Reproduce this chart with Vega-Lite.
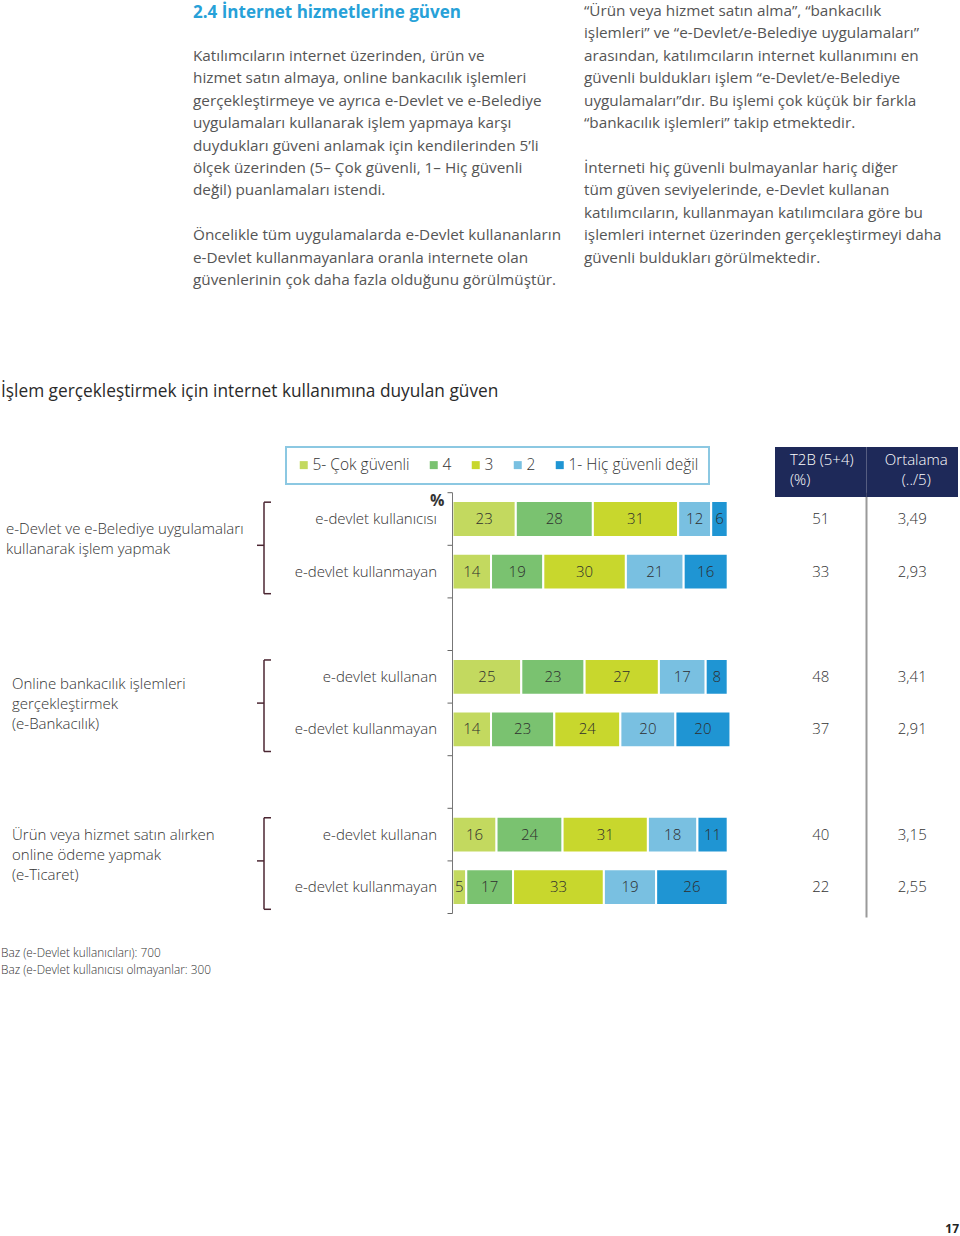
{
  "$schema": "https://vega.github.io/schema/vega-lite/v6.json",
  "width": 960,
  "height": 1236,
  "autosize": "none",
  "padding": 0,
  "background": "white",
  "config": {
    "view": {"stroke": null},
    "font": "Open Sans",
    "locale": {"number": {"decimal": ",", "thousands": ".", "grouping": [3], "currency": ["", " TL"]}},
    "legend": {"strokeWidth": 2}
  },
  "datasets": {
    "text": [
      {"kind": "heading", "column": 1, "line": 0.08, "text": "2.4 İnternet hizmetlerine güven"},
      {"kind": "body", "column": 1, "line": 2, "text": "Katılımcıların internet üzerinden, ürün ve"},
      {"kind": "body", "column": 1, "line": 3, "text": "hizmet satın almaya, online bankacılık işlemleri"},
      {"kind": "body", "column": 1, "line": 4, "text": "gerçekleştirmeye ve ayrıca e-Devlet ve e-Belediye"},
      {"kind": "body", "column": 1, "line": 5, "text": "uygulamaları kullanarak işlem yapmaya karşı"},
      {"kind": "body", "column": 1, "line": 6, "text": "duydukları güveni anlamak için kendilerinden 5’li"},
      {"kind": "body", "column": 1, "line": 7, "text": "ölçek üzerinden (5– Çok güvenli, 1– Hiç güvenli"},
      {"kind": "body", "column": 1, "line": 8, "text": "değil) puanlamaları istendi."},
      {"kind": "body", "column": 1, "line": 10, "text": "Öncelikle tüm uygulamalarda e-Devlet kullananların"},
      {"kind": "body", "column": 1, "line": 11, "text": "e-Devlet kullanmayanlara oranla internete olan"},
      {"kind": "body", "column": 1, "line": 12, "text": "güvenlerinin çok daha fazla olduğunu görülmüştür."},
      {"kind": "body", "column": 2, "line": 0, "text": "“Ürün veya hizmet satın alma”, “bankacılık"},
      {"kind": "body", "column": 2, "line": 1, "text": "işlemleri” ve “e-Devlet/e-Belediye uygulamaları”"},
      {"kind": "body", "column": 2, "line": 2, "text": "arasından, katılımcıların internet kullanımını en"},
      {"kind": "body", "column": 2, "line": 3, "text": "güvenli buldukları işlem “e-Devlet/e-Belediye"},
      {"kind": "body", "column": 2, "line": 4, "text": "uygulamaları”dır. Bu işlemi çok küçük bir farkla"},
      {"kind": "body", "column": 2, "line": 5, "text": "“bankacılık işlemleri” takip etmektedir."},
      {"kind": "body", "column": 2, "line": 7, "text": "İnterneti hiç güvenli bulmayanlar hariç diğer"},
      {"kind": "body", "column": 2, "line": 8, "text": "tüm güven seviyelerinde, e-Devlet kullanan"},
      {"kind": "body", "column": 2, "line": 9, "text": "katılımcıların, kullanmayan katılımcılara göre bu"},
      {"kind": "body", "column": 2, "line": 10, "text": "işlemleri internet üzerinden gerçekleştirmeyi daha"},
      {"kind": "body", "column": 2, "line": 11, "text": "güvenli buldukları görülmektedir."},
      {"kind": "title", "column": 0, "line": 17, "text": "İşlem gerçekleştirmek için internet kullanımına duyulan güven"},
      {"kind": "note", "column": 0, "line": 42, "text": "Baz (e-Devlet kullanıcıları): 700"},
      {"kind": "note", "column": 0, "line": 42.75, "text": "Baz (e-Devlet kullanıcısı olmayanlar: 300"},
      {"kind": "page", "column": 3, "line": 54.3, "text": "17"}
    ],
    "bars": [
      {"row": "g1|e-devlet kullanıcısı", "level": "5- Çok güvenli", "pct": 23},
      {"row": "g1|e-devlet kullanıcısı", "level": "4", "pct": 28},
      {"row": "g1|e-devlet kullanıcısı", "level": "3", "pct": 31},
      {"row": "g1|e-devlet kullanıcısı", "level": "2", "pct": 12},
      {"row": "g1|e-devlet kullanıcısı", "level": "1- Hiç güvenli değil", "pct": 6},
      {"row": "g1|e-devlet kullanmayan", "level": "5- Çok güvenli", "pct": 14},
      {"row": "g1|e-devlet kullanmayan", "level": "4", "pct": 19},
      {"row": "g1|e-devlet kullanmayan", "level": "3", "pct": 30},
      {"row": "g1|e-devlet kullanmayan", "level": "2", "pct": 21},
      {"row": "g1|e-devlet kullanmayan", "level": "1- Hiç güvenli değil", "pct": 16},
      {"row": "g2|e-devlet kullanan", "level": "5- Çok güvenli", "pct": 25},
      {"row": "g2|e-devlet kullanan", "level": "4", "pct": 23},
      {"row": "g2|e-devlet kullanan", "level": "3", "pct": 27},
      {"row": "g2|e-devlet kullanan", "level": "2", "pct": 17},
      {"row": "g2|e-devlet kullanan", "level": "1- Hiç güvenli değil", "pct": 8},
      {"row": "g2|e-devlet kullanmayan", "level": "5- Çok güvenli", "pct": 14},
      {"row": "g2|e-devlet kullanmayan", "level": "4", "pct": 23},
      {"row": "g2|e-devlet kullanmayan", "level": "3", "pct": 24},
      {"row": "g2|e-devlet kullanmayan", "level": "2", "pct": 20},
      {"row": "g2|e-devlet kullanmayan", "level": "1- Hiç güvenli değil", "pct": 20},
      {"row": "g3|e-devlet  kullanan", "level": "5- Çok güvenli", "pct": 16},
      {"row": "g3|e-devlet  kullanan", "level": "4", "pct": 24},
      {"row": "g3|e-devlet  kullanan", "level": "3", "pct": 31},
      {"row": "g3|e-devlet  kullanan", "level": "2", "pct": 18},
      {"row": "g3|e-devlet  kullanan", "level": "1- Hiç güvenli değil", "pct": 11},
      {"row": "g3|e-devlet  kullanmayan", "level": "5- Çok güvenli", "pct": 5},
      {"row": "g3|e-devlet  kullanmayan", "level": "4", "pct": 17},
      {"row": "g3|e-devlet  kullanmayan", "level": "3", "pct": 33},
      {"row": "g3|e-devlet  kullanmayan", "level": "2", "pct": 19},
      {"row": "g3|e-devlet  kullanmayan", "level": "1- Hiç güvenli değil", "pct": 26}
    ],
    "summary": [
      {"row": "g1|e-devlet kullanıcısı", "respondent": "e-devlet kullanıcısı", "t2b": 51, "mean": 3.49},
      {"row": "g1|e-devlet kullanmayan", "respondent": "e-devlet kullanmayan", "t2b": 33, "mean": 2.93},
      {"row": "g2|e-devlet kullanan", "respondent": "e-devlet kullanan", "t2b": 48, "mean": 3.41},
      {"row": "g2|e-devlet kullanmayan", "respondent": "e-devlet kullanmayan", "t2b": 37, "mean": 2.91},
      {"row": "g3|e-devlet  kullanan", "respondent": "e-devlet  kullanan", "t2b": 40, "mean": 3.15},
      {"row": "g3|e-devlet  kullanmayan", "respondent": "e-devlet  kullanmayan", "t2b": 22, "mean": 2.55}
    ],
    "ticks": [
      {"row": "g1|e-devlet kullanıcısı"},
      {"row": "g1|e-devlet kullanmayan"},
      {"row": "s1|"},
      {"row": "g2|e-devlet kullanan"},
      {"row": "g2|e-devlet kullanmayan"},
      {"row": "s2|"},
      {"row": "g3|e-devlet  kullanan"},
      {"row": "g3|e-devlet  kullanmayan"}
    ],
    "header": [
      {"metric": "T2B", "label": "T2B (5+4)\n(%)"},
      {"metric": "Ortalama", "label": "Ortalama\n(../5)"}
    ],
    "groups": [
      {"group": "g1", "label": "e-Devlet ve e-Belediye uygulamaları\nkullanarak işlem yapmak", "first": "g1|e-devlet kullanıcısı", "second": "g1|e-devlet kullanmayan"},
      {"group": "g2", "label": "Online bankacılık işlemleri\ngerçekleştirmek\n(e-Bankacılık)", "first": "g2|e-devlet kullanan", "second": "g2|e-devlet kullanmayan"},
      {"group": "g3", "label": "Ürün veya hizmet satın alırken\nonline ödeme yapmak\n(e-Ticaret)", "first": "g3|e-devlet  kullanan", "second": "g3|e-devlet  kullanmayan"}
    ]
  },
  "layer": [
    {
      "data": {"name": "text"},
      "encoding": {
        "x": {"field": "column", "type": "quantitative", "axis": null, "scale": {"domain": [0, 1, 2, 3], "range": [1, 193, 584, 959], "nice": false, "zero": false}},
        "y": {"field": "line", "type": "quantitative", "axis": null, "scale": {"domain": [0, 12], "range": [11, 280.1], "nice": false, "zero": false}},
        "text": {"field": "text"}
      },
      "layer": [
        {"transform": [{"filter": "datum.kind === 'heading'"}], "mark": {"type": "text", "align": "left", "baseline": "middle", "fontSize": 17, "fontWeight": "bold", "fill": "#27a1d8"}},
        {"transform": [{"filter": "datum.kind === 'body'"}], "mark": {"type": "text", "align": "left", "baseline": "middle", "fontSize": 15.3, "fontWeight": "normal", "fill": "#555555"}},
        {"transform": [{"filter": "datum.kind === 'title'"}], "mark": {"type": "text", "align": "left", "baseline": "middle", "fontSize": 17.3, "fill": "#2a2a2a"}},
        {"transform": [{"filter": "datum.kind === 'note'"}], "mark": {"type": "text", "align": "left", "baseline": "middle", "fontSize": 11.8, "fontWeight": 300, "fill": "#333333"}},
        {"transform": [{"filter": "datum.kind === 'page'"}], "mark": {"type": "text", "align": "right", "baseline": "middle", "fontSize": 12, "fontWeight": "bold", "fill": "#222222"}}
      ]
    },
    {
      "layer": [
        {
          "layer": [
            {
              "data": {"name": "bars"},
              "mark": {"type": "bar", "height": {"band": 0.68}, "stroke": "white", "strokeWidth": 2},
              "encoding": {
                "y": {"field": "row", "type": "nominal", "axis": null, "scale": {"domain": ["h|", "g1|e-devlet kullanıcısı", "g1|e-devlet kullanmayan", "s1|", "g2|e-devlet kullanan", "g2|e-devlet kullanmayan", "s2|", "g3|e-devlet  kullanan", "g3|e-devlet  kullanmayan"], "range": [440.1, 913.5], "paddingInner": 0, "paddingOuter": 0}},
                "x": {"field": "pct", "type": "quantitative", "stack": "zero", "axis": null, "scale": {"domain": [0, 100], "range": [452.5, 727.7], "nice": false, "zero": false}},
                "color": {"field": "level", "type": "nominal",
                  "scale": {"domain": ["5- Çok güvenli", "4", "3", "2", "1- Hiç güvenli değil"], "range": ["#c3d95f", "#7ac270", "#c8d72d", "#79c0e1", "#1f95d3"]},
                  "legend": {"orient": "none", "legendX": 286, "legendY": 447, "direction": "horizontal", "title": null, "symbolType": "square", "symbolSize": 64, "symbolStrokeWidth": 0, "labelFontSize": 15.5, "labelFontWeight": 300, "labelColor": "#333333", "labelOffset": 1, "columnPadding": 16, "padding": 10, "strokeColor": "#8cc8e2"}},
                "order": {"field": "level", "sort": "descending"}
              }
            },
            {
              "data": {"name": "bars"},
              "mark": {"type": "text", "baseline": "middle", "align": "center", "fontSize": 15, "fontWeight": 300, "fill": "#2e2e2e"},
              "encoding": {
                "y": {"field": "row", "type": "nominal", "axis": null},
                "x": {"field": "pct", "type": "quantitative", "stack": "zero", "bandPosition": 0.5, "axis": null},
                "detail": {"field": "level"},
                "order": {"field": "level", "sort": "descending"},
                "text": {"field": "pct", "type": "quantitative"}
              }
            },
            {
              "data": {"name": "summary"},
              "mark": {"type": "text", "baseline": "middle", "align": "right", "dx": -15.5, "fontSize": 15, "fontWeight": 300, "fill": "#333333"},
              "encoding": {
                "y": {"field": "row", "type": "nominal", "axis": null},
                "x": {"datum": 0, "type": "quantitative", "axis": null},
                "text": {"field": "respondent"}
              }
            },
            {
              "data": {"name": "ticks"},
              "mark": {"type": "rule", "color": "#666666", "strokeWidth": 1, "xOffset": -5},
              "encoding": {
                "y": {"field": "row", "type": "nominal", "bandPosition": 0, "axis": null},
                "x": {"datum": 0, "type": "quantitative", "axis": null},
                "x2": {"datum": 0}
              }
            },
            {
              "data": {"values": [{"unit": "%"}]},
              "mark": {"type": "rule", "color": "#666666", "strokeWidth": 1, "xOffset": -5},
              "encoding": {
                "y": {"datum": "g3|e-devlet  kullanmayan", "type": "nominal", "bandPosition": 1, "axis": null},
                "x": {"datum": 0, "type": "quantitative", "axis": null},
                "x2": {"datum": 0}
              }
            },
            {
              "data": {"values": [{"unit": "%"}]},
              "mark": {"type": "text", "align": "right", "baseline": "middle", "dx": -8, "dy": 8, "fontSize": 16, "fontWeight": "bold", "fill": "#333333"},
              "encoding": {
                "x": {"datum": 0, "type": "quantitative", "axis": null},
                "y": {"datum": "g1|e-devlet kullanıcısı", "type": "nominal", "bandPosition": 0, "axis": null},
                "text": {"field": "unit"}
              }
            },
            {
              "data": {"values": [{"unit": "%"}]},
              "mark": {"type": "rule", "color": "#777777", "strokeWidth": 1},
              "encoding": {
                "x": {"datum": 0, "type": "quantitative", "axis": null},
                "y": {"datum": "g1|e-devlet kullanıcısı", "type": "nominal", "bandPosition": 0, "axis": null},
                "y2": {"datum": "g3|e-devlet  kullanmayan", "bandPosition": 1}
              }
            }
          ]
        },
        {
          "data": {"name": "groups"},
          "encoding": {
            "x": {"datum": "brace", "type": "nominal", "axis": null, "scale": {"type": "point", "domain": ["label", "brace"], "range": [12, 264], "padding": 0}}
          },
          "layer": [
            {"transform": [{"filter": "datum.group === 'g1'"}], "mark": {"type": "text", "align": "left", "baseline": "middle", "lineBreak": "\n", "lineHeight": 20, "dx": -6, "dy": -16, "fontSize": 15, "fontWeight": 300, "fill": "#333333"},
              "encoding": {"x": {"datum": "label", "type": "nominal"}, "y": {"field": "first", "type": "nominal", "bandPosition": 1, "axis": null}, "text": {"field": "label"}}},
            {"transform": [{"filter": "datum.group === 'g2'"}], "mark": {"type": "text", "align": "left", "baseline": "middle", "lineBreak": "\n", "lineHeight": 20, "dy": -19, "fontSize": 15, "fontWeight": 300, "fill": "#333333"},
              "encoding": {"x": {"datum": "label", "type": "nominal"}, "y": {"field": "first", "type": "nominal", "bandPosition": 1, "axis": null}, "text": {"field": "label"}}},
            {"transform": [{"filter": "datum.group === 'g3'"}], "mark": {"type": "text", "align": "left", "baseline": "middle", "lineBreak": "\n", "lineHeight": 20, "dy": -26, "fontSize": 15, "fontWeight": 300, "fill": "#333333"},
              "encoding": {"x": {"datum": "label", "type": "nominal"}, "y": {"field": "first", "type": "nominal", "bandPosition": 1, "axis": null}, "text": {"field": "label"}}},
            {"mark": {"type": "rule", "color": "#4b2632", "strokeWidth": 1.5},
              "encoding": {"y": {"field": "first", "type": "nominal", "bandPosition": 0.18, "axis": null}, "y2": {"field": "second", "bandPosition": 0.92}}},
            {"mark": {"type": "rule", "color": "#4b2632", "strokeWidth": 1.5, "x2Offset": 7},
              "encoding": {"x2": {"datum": "brace"}, "y": {"field": "first", "type": "nominal", "bandPosition": 0.18, "axis": null}}},
            {"mark": {"type": "rule", "color": "#4b2632", "strokeWidth": 1.5, "x2Offset": 7},
              "encoding": {"x2": {"datum": "brace"}, "y": {"field": "second", "type": "nominal", "bandPosition": 0.92, "axis": null}}},
            {"mark": {"type": "rule", "color": "#4b2632", "strokeWidth": 1.5, "xOffset": -7},
              "encoding": {"x2": {"datum": "brace"}, "y": {"field": "first", "type": "nominal", "bandPosition": 1, "axis": null}}}
          ]
        },
        {
          "layer": [
            {
              "data": {"values": [{"unit": "divider"}]},
              "mark": {"type": "rule", "color": "#9a9a9a", "strokeWidth": 2, "y2Offset": 4},
              "encoding": {
                "x": {"datum": "Ortalama", "type": "nominal", "bandPosition": 0, "axis": null, "scale": {"type": "band", "domain": ["T2B", "Ortalama"], "range": [775, 958], "paddingInner": 0, "paddingOuter": 0}},
                "y": {"datum": "h|", "type": "nominal", "bandPosition": 1, "axis": null},
                "y2": {"datum": "g3|e-devlet  kullanmayan", "bandPosition": 1}
              }
            },
            {
              "data": {"name": "header"},
              "mark": {"type": "bar", "height": {"band": 0.95}, "width": {"band": 1}, "yOffset": 5.6, "fill": "#1e2959"},
              "encoding": {
                "x": {"field": "metric", "type": "nominal", "axis": null},
                "y": {"datum": "h|", "type": "nominal", "axis": null}
              }
            },
            {
              "data": {"name": "header"},
              "transform": [{"filter": "datum.metric === 'T2B'"}],
              "mark": {"type": "text", "align": "left", "baseline": "middle", "dx": 15, "dy": -6.5, "lineBreak": "\n", "lineHeight": 20, "fontSize": 15, "fontWeight": 300, "fill": "white"},
              "encoding": {
                "x": {"field": "metric", "type": "nominal", "bandPosition": 0, "axis": null},
                "y": {"datum": "h|", "type": "nominal", "axis": null},
                "text": {"field": "label"}
              }
            },
            {
              "data": {"name": "header"},
              "transform": [{"filter": "datum.metric === 'Ortalama'"}],
              "mark": {"type": "text", "align": "center", "baseline": "middle", "dx": 4, "dy": -6.5, "lineBreak": "\n", "lineHeight": 20, "fontSize": 15, "fontWeight": 300, "fill": "white"},
              "encoding": {
                "x": {"field": "metric", "type": "nominal", "bandPosition": 0.5, "axis": null},
                "y": {"datum": "h|", "type": "nominal", "axis": null},
                "text": {"field": "label"}
              }
            },
            {
              "data": {"name": "summary"},
              "mark": {"type": "text", "align": "center", "baseline": "middle", "fontSize": 15, "fontWeight": 300, "fill": "#333333"},
              "encoding": {
                "x": {"datum": "T2B", "type": "nominal", "bandPosition": 0.5, "axis": null},
                "y": {"field": "row", "type": "nominal", "axis": null},
                "text": {"field": "t2b", "type": "quantitative", "format": "d"}
              }
            },
            {
              "data": {"name": "summary"},
              "mark": {"type": "text", "align": "center", "baseline": "middle", "fontSize": 15, "fontWeight": 300, "fill": "#333333"},
              "encoding": {
                "x": {"datum": "Ortalama", "type": "nominal", "bandPosition": 0.5, "axis": null},
                "y": {"field": "row", "type": "nominal", "axis": null},
                "text": {"field": "mean", "type": "quantitative", "format": ".2f"}
              }
            }
          ]
        }
      ],
      "resolve": {"scale": {"x": "independent"}}
    }
  ],
  "resolve": {"scale": {"x": "independent", "y": "independent"}}
}
